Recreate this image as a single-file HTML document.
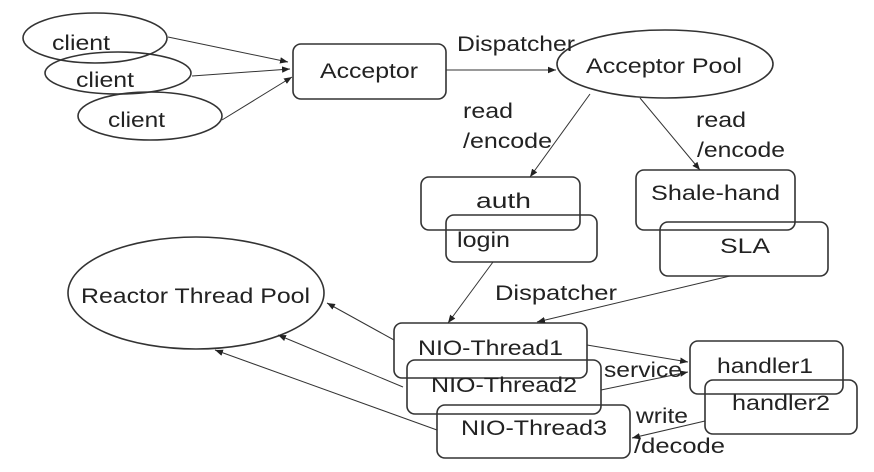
<!DOCTYPE html>
<html><head><style>body{margin:0;background:#fff}svg{display:block}text{font-family:"Liberation Sans",sans-serif;font-size:21px;fill:#222}</style></head>
<body>
<svg width="874" height="472" viewBox="0 0 874 472">
<defs><marker id="a" viewBox="0 0 10 10" refX="10" refY="5" markerWidth="8" markerHeight="8" orient="auto"><path d="M0,1 L10,5 L0,9z" fill="#222"/></marker></defs>
<g fill="none" stroke="#333" stroke-width="1.6">
<ellipse cx="95" cy="38" rx="72" ry="25"/>
<ellipse cx="118" cy="73" rx="73" ry="21"/>
<ellipse cx="150" cy="116" rx="72" ry="24"/>
<rect x="293" y="44" width="153" height="55" rx="8"/>
<ellipse cx="665" cy="64" rx="108" ry="34"/>
<rect x="421" y="177" width="159" height="53" rx="8"/>
<rect x="446" y="215" width="151" height="47" rx="8"/>
<rect x="636" y="170" width="159" height="60" rx="8"/>
<rect x="660" y="222" width="168" height="54" rx="8"/>
<ellipse cx="196" cy="293" rx="128" ry="56"/>
<rect x="394" y="323" width="193" height="55" rx="8"/>
<rect x="407" y="360" width="194" height="54" rx="8"/>
<rect x="437" y="405" width="193" height="53" rx="8"/>
<rect x="690" y="341" width="153" height="53" rx="8"/>
<rect x="705" y="380" width="152" height="54" rx="8"/>
</g>
<g stroke="#333" stroke-width="1" marker-end="url(#a)">
<line x1="168" y1="37" x2="288" y2="62"/>
<line x1="192" y1="76" x2="290" y2="69"/>
<line x1="222" y1="120" x2="292" y2="77"/>
<line x1="446" y1="70" x2="556" y2="70"/>
<line x1="590" y1="94" x2="530" y2="177"/>
<line x1="640" y1="98" x2="700" y2="170"/>
<line x1="493" y1="262" x2="448" y2="323"/>
<line x1="730" y1="276" x2="537" y2="322"/>
<line x1="394" y1="340" x2="327" y2="303"/>
<line x1="403" y1="387" x2="278" y2="335"/>
<line x1="437" y1="430" x2="215" y2="350"/>
<line x1="587" y1="345" x2="688" y2="362"/>
<line x1="601" y1="390" x2="688" y2="372"/>
<line x1="705" y1="421" x2="632" y2="438"/>
</g>
<g>
<text x="320" y="78" textLength="98" lengthAdjust="spacingAndGlyphs">Acceptor</text>
<text x="52" y="50" textLength="58" lengthAdjust="spacingAndGlyphs">client</text>
<text x="76" y="87" textLength="58" lengthAdjust="spacingAndGlyphs">client</text>
<text x="108" y="127" textLength="57" lengthAdjust="spacingAndGlyphs">client</text>
<text x="457" y="51" textLength="118" lengthAdjust="spacingAndGlyphs">Dispatcher</text>
<text x="586" y="73" textLength="156" lengthAdjust="spacingAndGlyphs">Acceptor Pool</text>
<text x="463" y="118" textLength="50" lengthAdjust="spacingAndGlyphs">read</text>
<text x="463" y="148" textLength="89" lengthAdjust="spacingAndGlyphs">/encode</text>
<text x="696" y="127" textLength="50" lengthAdjust="spacingAndGlyphs">read</text>
<text x="697" y="157" textLength="88" lengthAdjust="spacingAndGlyphs">/encode</text>
<text x="476" y="208" textLength="55" lengthAdjust="spacingAndGlyphs">auth</text>
<text x="457" y="247" textLength="53" lengthAdjust="spacingAndGlyphs">login</text>
<text x="651" y="200" textLength="129" lengthAdjust="spacingAndGlyphs">Shale-hand</text>
<text x="720" y="253" textLength="50" lengthAdjust="spacingAndGlyphs">SLA</text>
<text x="81" y="303" textLength="229" lengthAdjust="spacingAndGlyphs">Reactor Thread Pool</text>
<text x="495" y="300" textLength="122" lengthAdjust="spacingAndGlyphs">Dispatcher</text>
<text x="418" y="355" textLength="145" lengthAdjust="spacingAndGlyphs">NIO-Thread1</text>
<text x="431" y="392" textLength="146" lengthAdjust="spacingAndGlyphs">NIO-Thread2</text>
<text x="461" y="435" textLength="146" lengthAdjust="spacingAndGlyphs">NIO-Thread3</text>
<text x="604" y="377" textLength="78" lengthAdjust="spacingAndGlyphs">service</text>
<text x="717" y="373" textLength="96" lengthAdjust="spacingAndGlyphs">handler1</text>
<text x="732" y="410" textLength="98" lengthAdjust="spacingAndGlyphs">handler2</text>
<text x="636" y="423" textLength="52" lengthAdjust="spacingAndGlyphs">write</text>
<text x="634" y="453" textLength="91" lengthAdjust="spacingAndGlyphs">/decode</text>
</g>
</svg>
</body></html>
